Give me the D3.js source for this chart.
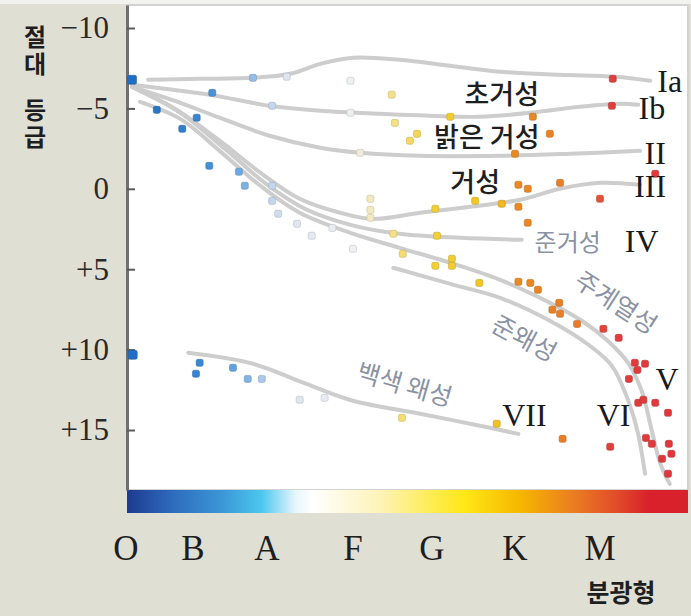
<!DOCTYPE html>
<html>
<head>
<meta charset="utf-8">
<script src="https://cdn.jsdelivr.net/npm/d3@7"></script>
<style>
  html, body { margin: 0; padding: 0; background: #e0dfd4; }
  svg { display: block; }
</style>
</head>
<body>
<svg id="chart" width="691" height="616"></svg>
<script>
// spectral index: O=0, B=1, A=2, F=3, G=4, K=5, M=6
const spectralClasses = ["O", "B", "A", "F", "G", "K", "M"];
const magnitudeTicks = [-10, -5, 0, 5, 10, 15];

// luminosity class tracks: [spectral index, absolute magnitude]
const trackIa = [[0.33,-6.78],[1.09,-6.84],[1.81,-6.90],[2.27,-7.15],[2.62,-7.77],[3.00,-8.15],[3.59,-8.02],[4.22,-7.65],[4.82,-7.28],[5.53,-7.09],[6.18,-6.97],[6.59,-6.72]];
const trackIb = [[0.09,-6.47],[0.58,-6.22],[1.23,-5.85],[2.03,-5.16],[2.62,-4.85],[3.34,-4.66],[3.97,-4.54],[4.58,-4.48],[5.18,-4.73],[5.76,-5.10],[6.24,-5.29],[6.45,-5.22]];
const trackII = [[0.09,-6.34],[0.73,-5.47],[1.36,-4.42],[2.03,-3.30],[2.62,-2.55],[3.09,-2.24],[3.85,-2.05],[4.82,-2.05],[5.65,-2.18],[6.47,-2.36]];
const trackIII = [[0.09,-6.34],[0.73,-4.98],[1.36,-2.99],[1.91,-1.00],[2.38,0.62],[2.85,1.49],[3.24,1.87],[3.85,1.49],[4.46,1.12],[5.06,0.68],[5.53,0.00],[6.00,-0.37],[6.47,-0.25]];
const trackIV = [[0.09,-6.34],[0.81,-4.73],[1.43,-2.49],[1.97,-0.37],[2.44,1.24],[2.97,2.24],[3.59,2.80],[4.34,3.05],[5.08,3.17]];
const trackV = [[0.21,-5.41],[0.81,-4.35],[1.36,-2.36],[1.91,-0.19],[2.38,1.49],[2.97,2.74],[3.59,3.67],[4.22,4.60],[4.82,5.66],[5.41,7.09],[5.82,8.33],[6.09,9.45],[6.33,10.82],[6.49,12.56],[6.61,15.05],[6.71,17.10],[6.82,18.35]];
const trackVI = [[3.51,4.91],[4.22,5.91],[4.82,6.78],[5.41,8.21],[5.88,9.76],[6.14,11.01],[6.32,13.00],[6.44,15.05],[6.53,17.72]];
const trackVII = [[0.93,10.20],[1.81,10.88],[2.42,12.06],[3.00,13.18],[3.85,13.99],[4.46,14.61],[5.04,15.24]];

// individual stars: [spectral index, absolute magnitude]
const stars = [
  [0.09,-6.78],[1.81,-6.90],[2.23,-6.97],[1.26,-5.97],[2.06,-5.16],[0.46,-4.91],[1.05,-4.42],[0.84,-3.73],
  [1.22,-1.43],[1.62,-1.06],[1.70,-0.19],[2.06,-0.19],[2.06,0.75],[2.13,1.55],[2.35,2.18],[2.52,2.92],
  [2.97,-6.72],[3.49,-5.85],[2.97,-4.73],[3.53,-4.10],[4.22,-4.48],[3.72,-2.99],[3.81,-3.42],[3.09,-2.24],
  [3.22,0.62],[3.22,1.31],[3.22,1.80],[4.04,1.24],[4.52,0.75],[4.84,0.93],[2.76,2.43],[3.00,3.73],
  [3.51,2.80],[4.06,2.92],[3.63,4.04],[4.04,4.79],[4.24,4.35],[4.24,4.79],[4.57,5.85],
  [6.15,-6.84],[6.14,-5.16],[5.21,-4.48],[5.41,-3.42],[5.00,-2.18],[6.65,-0.93],
  [5.04,-0.25],[5.15,0.00],[5.53,-0.37],[6.00,0.62],[5.04,1.12],[5.15,2.11],
  [5.04,5.78],[5.18,5.85],[5.27,6.28],[5.52,7.09],[5.44,7.52],[5.53,7.77],[5.73,8.40],
  [6.04,8.71],[6.22,9.27],[6.41,10.82],[6.53,10.88],[6.44,11.26],[6.34,11.82],
  [6.45,13.31],[6.51,13.12],[6.65,13.31],[6.80,13.93],[6.54,15.49],[6.61,15.86],
  [6.81,15.86],[6.84,16.48],[6.73,16.79],[6.80,17.72],[6.12,16.04],[5.56,15.55],
  [4.78,14.61],[3.62,14.24],
  [0.10,10.32],[1.09,10.82],[1.04,11.50],[1.54,11.13],[1.74,11.82],[1.93,11.82],[2.38,13.12],[2.67,13.00]
];

const tracks = [trackIa, trackIb, trackII, trackIII, trackIV, trackV, trackVI, trackVII];

const svg = d3.select("#chart");
const plot = { left: 127, right: 688, top: 5, bottom: 490 };

// class letters are not evenly spaced on the original figure
const x = d3.scaleLinear()
  .domain([0, 1, 2, 3, 4, 5, 6, 7])
  .range([126, 193, 267, 353, 432, 515, 600, 685]);

const y = d3.scaleLinear()
  .domain([-11.43, 18.73])
  .range([plot.top, plot.bottom]);

const starColor = d3.scaleLinear()
  .domain([0, 1, 1.6, 2.2, 3.0, 3.4, 4.0, 4.8, 5.0, 5.9, 6.05, 7])
  .range(["#1f6cc4", "#3282d2", "#6aa6e0", "#dfe4ee", "#eef0f3", "#f6e49a", "#f2d035", "#f1c21e", "#ea8a24", "#e9772a", "#e0403c", "#e0363a"])
  .clamp(true);

// thin light strip along the top edge
svg.append("rect")
  .attr("x", 0).attr("y", 0)
  .attr("width", 691).attr("height", 4)
  .attr("fill", "#f2f2ef");

// plot background
svg.append("rect")
  .attr("x", plot.left).attr("y", plot.top)
  .attr("width", plot.right - plot.left).attr("height", plot.bottom - plot.top)
  .attr("fill", "#ffffff")
  .attr("stroke", "#d2d2d2")
  .attr("stroke-width", 2);

// colour bar
const defs = svg.append("defs");
const grad = defs.append("linearGradient").attr("id", "spec");
const gradStops = [
  [0, "#1d3a8f"], [0.08, "#2d6bbd"], [0.17, "#3b97d6"], [0.24, "#4cc7ef"],
  [0.30, "#e6f6fb"], [0.33, "#ffffff"], [0.45, "#fdf3b8"], [0.60, "#ffe816"],
  [0.70, "#f6b700"], [0.80, "#eb7a22"], [0.88, "#e0472a"], [0.93, "#d8212b"], [1, "#d8212b"]
];
grad.selectAll("stop").data(gradStops).enter().append("stop")
  .attr("offset", d => d[0])
  .attr("stop-color", d => d[1]);

svg.append("rect")
  .attr("x", plot.left).attr("y", plot.bottom)
  .attr("width", plot.right - plot.left).attr("height", 23)
  .attr("fill", "url(#spec)");

// y axis
const yAxis = d3.axisLeft(y)
  .tickValues(magnitudeTicks)
  .tickSizeInner(-8)
  .tickSizeOuter(0)
  .tickPadding(18)
  .tickFormat(d => d < 0 ? "\u2212" + Math.abs(d) : d > 0 ? "+" + d : "0");

const gy = svg.append("g")
  .attr("transform", `translate(${plot.left},0)`)
  .call(yAxis);
gy.select(".domain").attr("stroke", "#6f6f6f").attr("stroke-width", 3);
gy.selectAll(".tick line").attr("stroke", "#5a5a5a").attr("stroke-width", 2);
gy.selectAll(".tick text")
  .attr("font-family", "Liberation Serif, serif")
  .attr("font-size", 31)
  .attr("fill", "#2a2a2a");

// luminosity class curves
const line = d3.line()
  .x(d => x(d[0]))
  .y(d => y(d[1]))
  .curve(d3.curveCatmullRom.alpha(0.5));

svg.append("g")
  .selectAll("path")
  .data(tracks)
  .enter()
  .append("path")
  .attr("d", line)
  .attr("fill", "none")
  .attr("stroke", "#cdcdcd")
  .attr("stroke-width", 4)
  .attr("stroke-linecap", "round");

// stars
svg.append("g")
  .selectAll("rect")
  .data(stars)
  .enter()
  .append("rect")
  .each(function(d) {
    const s = d[0] < 0.2 ? 9 : 7;
    const c = starColor(d[0]);
    d3.select(this)
      .attr("x", x(d[0]) - s / 2)
      .attr("y", y(d[1]) - s / 2)
      .attr("width", s)
      .attr("height", s)
      .attr("rx", 1.8)
      .attr("fill", c)
      .attr("stroke", d3.color(c).darker(0.6))
      .attr("stroke-opacity", 0.7)
      .attr("stroke-width", 0.8);
  });

// region labels
const darkLabels = [
  { text: "초거성", sx: 4.84, mag: -5.97, size: 27 },
  { text: "밝은 거성", sx: 4.66, mag: -3.30, size: 27 },
  { text: "거성", sx: 4.52, mag: -0.50, size: 27 }
];
const paleLabels = [
  { text: "준거성", sx: 5.62, mag: 3.23, size: 24, rot: 0 },
  { text: "주계열성", sx: 6.20, mag: 6.97, size: 25, rot: 33 },
  { text: "준왜성", sx: 5.12, mag: 9.20, size: 25, rot: 28 },
  { text: "백색 왜성", sx: 3.66, mag: 12.06, size: 25, rot: 16 }
];
const romanLabels = [
  { text: "Ia", sx: 6.82, mag: -6.72 },
  { text: "Ib", sx: 6.61, mag: -5.04 },
  { text: "II", sx: 6.65, mag: -2.24 },
  { text: "III", sx: 6.59, mag: -0.19 },
  { text: "IV", sx: 6.49, mag: 3.23 },
  { text: "V", sx: 6.79, mag: 11.82 },
  { text: "VI", sx: 6.16, mag: 14.05 },
  { text: "VII", sx: 5.11, mag: 14.05 }
];

svg.append("g").selectAll("text").data(darkLabels).enter().append("text")
  .attr("x", d => x(d.sx)).attr("y", d => y(d.mag))
  .attr("text-anchor", "middle").attr("dominant-baseline", "central")
  .attr("font-family", "Noto Sans CJK KR, sans-serif")
  .attr("font-weight", 500)
  .attr("font-size", d => d.size)
  .attr("fill", "#1e1e1e")
  .text(d => d.text);

svg.append("g").selectAll("text").data(paleLabels).enter().append("text")
  .attr("transform", d => `translate(${x(d.sx)},${y(d.mag)}) rotate(${d.rot})`)
  .attr("text-anchor", "middle").attr("dominant-baseline", "central")
  .attr("font-family", "Noto Sans CJK KR, sans-serif")
  .attr("font-size", d => d.size)
  .attr("fill", "#8a92a4")
  .text(d => d.text);

svg.append("g").selectAll("text").data(romanLabels).enter().append("text")
  .attr("x", d => x(d.sx)).attr("y", d => y(d.mag))
  .attr("text-anchor", "middle").attr("dominant-baseline", "central")
  .attr("font-family", "Liberation Serif, serif")
  .attr("font-size", 32)
  .attr("fill", "#1a1a1a")
  .text(d => d.text);

// spectral class letters
svg.append("g").selectAll("text").data(spectralClasses).enter().append("text")
  .attr("x", (d, i) => x(i))
  .attr("y", 560)
  .attr("text-anchor", "middle")
  .attr("font-family", "Liberation Serif, serif")
  .attr("font-size", 35)
  .attr("fill", "#1e1e1e")
  .text(d => d);

svg.append("text")
  .attr("x", 621).attr("y", 602)
  .attr("text-anchor", "middle")
  .attr("font-family", "Noto Sans CJK KR, sans-serif")
  .attr("font-weight", 700)
  .attr("font-size", 25)
  .attr("fill", "#1e1e1e")
  .text("분광형");

// y title: upright characters in vertical writing mode
const yTitle = svg.append("text")
  .attr("x", 35)
  .attr("y", 25)
  .style("writing-mode", "vertical-rl")
  .attr("font-family", "Noto Sans CJK KR, sans-serif")
  .attr("font-weight", 700)
  .attr("font-size", 24)
  .attr("letter-spacing", 3)
  .attr("fill", "#1e1e1e");
yTitle.append("tspan").text("절대");
yTitle.append("tspan").attr("x", 35).attr("y", 98).text("등급");
</script>
</body>
</html>
